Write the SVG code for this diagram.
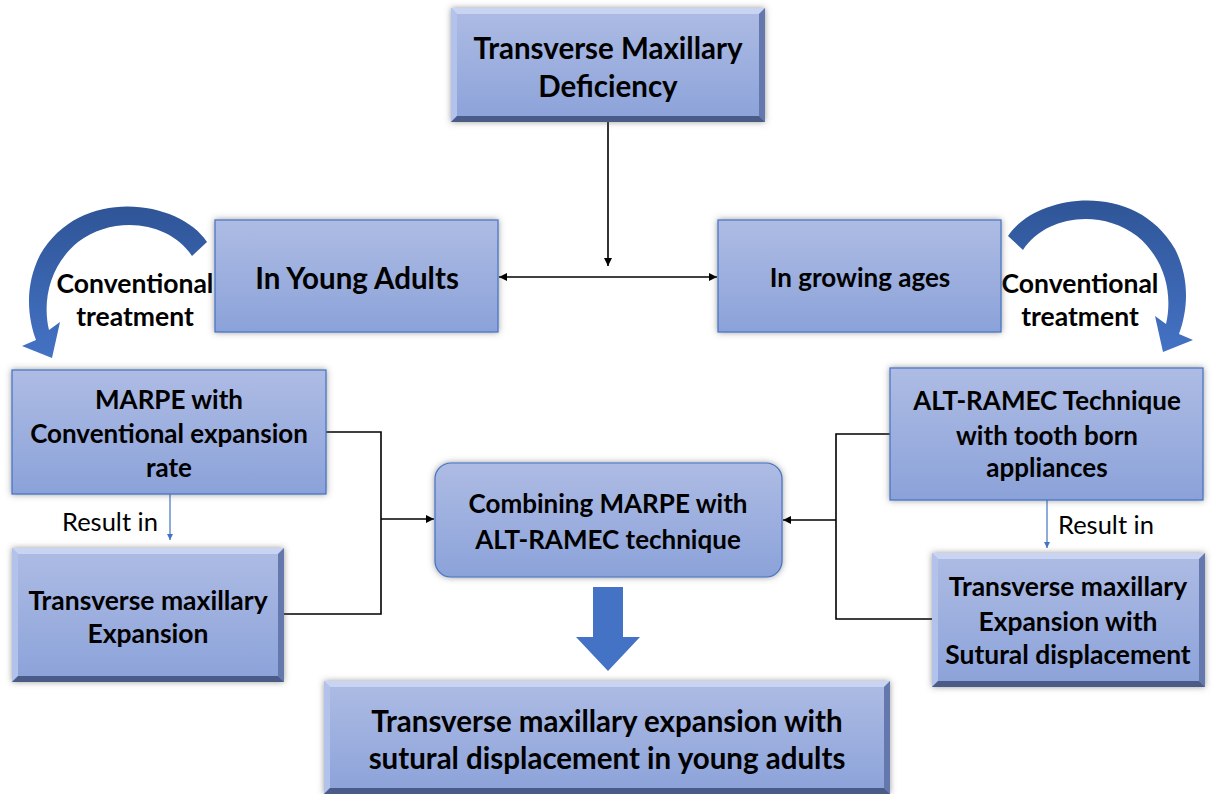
<svg xmlns="http://www.w3.org/2000/svg" width="1212" height="794" viewBox="0 0 1212 794">
<defs>
<linearGradient id="gBox" x1="0" y1="0" x2="0" y2="1">
<stop offset="0" stop-color="#AEBCE4"/>
<stop offset="1" stop-color="#8BA2D9"/>
</linearGradient>
<linearGradient id="gArc" x1="0" y1="0" x2="0" y2="1">
<stop offset="0" stop-color="#2F5597"/>
<stop offset="1" stop-color="#4472C4"/>
</linearGradient>
<filter id="sh" x="-10%" y="-10%" width="120%" height="120%">
<feDropShadow dx="0" dy="0" stdDeviation="3" flood-color="#555" flood-opacity="0.6"/>
</filter>
<marker id="ah" viewBox="0 0 10 10" refX="10" refY="5" markerWidth="5" markerHeight="5" orient="auto-start-reverse">
<path d="M0,0 L10,5 L0,10 z" fill="#000"/>
</marker>
<marker id="ahb" viewBox="0 0 10 10" refX="10" refY="5" markerWidth="5" markerHeight="5" orient="auto">
<path d="M0,0 L10,5 L0,10 z" fill="#4472C4"/>
</marker>
</defs>
<style>
.box{fill:url(#gBox);stroke:#4472C4;stroke-width:1.2;filter:url(#sh)}
.bev{fill:url(#gBox);filter:url(#sh)}
.bt{fill:#C8D4F1}
.bl{fill:#B3C2EA}
.br{fill:#6478AE}
.bb{fill:#4B5B88}
.t{font-family:Lato,"Liberation Sans",sans-serif;font-weight:bold;fill:#000;text-anchor:middle}
.r{font-family:Lato,"Liberation Sans",sans-serif;font-size:25.5px;fill:#000}
.ln{fill:none;stroke:#000;stroke-width:1.6}
.lb{fill:none;stroke:#4472C4;stroke-width:1.2}
</style>

<g id="connectors">
<path class="ln" d="M608,122 V266" marker-end="url(#ah)"/>
<path class="ln" d="M499,277 H717" marker-start="url(#ah)" marker-end="url(#ah)"/>
<path class="ln" d="M326,432 H381 V614 H284"/>
<path class="ln" d="M381,519 H434" marker-end="url(#ah)"/>
<path class="ln" d="M890,434 H836 V619 H932"/>
<path class="ln" d="M836,520 H783" marker-end="url(#ah)"/>
<path class="lb" d="M170,494 V540" marker-end="url(#ahb)"/>
<path class="lb" d="M1047,500 V548" marker-end="url(#ahb)"/>
<text class="r" x="62" y="531">Result in</text>
<text class="r" x="1058" y="534">Result in</text>
<polygon points="593,587 623,587 623,637 640,637 608,671 576,637 593,637" fill="#4472C4"/>
<path id="arcL" fill="url(#gArc)" d="M207,242 C180,200 80,185 40,255 C25,285 27,315 36,340 L22,346 L52,358 L60,322 L49,330 C42,300 50,265 78,242 C115,214 170,222 192,256 Z"/>
<path id="arcR" fill="url(#gArc)" transform="translate(1215,-6) scale(-1,1)" d="M207,242 C180,200 80,185 40,255 C25,285 27,315 36,340 L22,346 L52,358 L60,322 L49,330 C42,300 50,265 78,242 C115,214 170,222 192,256 Z"/>
<text class="t" x="135" y="292.5" font-size="26.5">Conventional</text>
<text class="t" x="135" y="325.5" font-size="26.5">treatment</text>
<text class="t" x="1080" y="292.5" font-size="26.5">Conventional</text>
<text class="t" x="1080" y="325.5" font-size="26.5">treatment</text>
</g>

<g id="n-top">
<rect class="bev" x="451" y="8" width="314" height="114"/>
<polygon class="bt" points="451,8 765,8 759,14 457,14"/>
<polygon class="bl" points="451,8 457,14 457,116 451,122"/>
<polygon class="br" points="765,8 765,122 759,116 759,14"/>
<polygon class="bb" points="451,122 765,122 759,116 457,116"/>
<text class="t" x="608" y="58.5" font-size="29.5">Transverse Maxillary</text>
<text class="t" x="608" y="96.5" font-size="29.5">Deficiency</text>
</g>

<g id="n-young">
<rect class="box" x="215" y="220" width="283" height="112"/>
<text class="t" x="357" y="288.5" font-size="29.5">In Young Adults</text>
</g>

<g id="n-growing">
<rect class="box" x="718" y="220" width="283" height="112"/>
<text class="t" x="860" y="287" font-size="26">In growing ages</text>
</g>

<g id="n-marpe">
<rect class="box" x="12" y="370" width="314" height="124"/>
<text class="t" x="169" y="409" font-size="26">MARPE with</text>
<text class="t" x="169" y="443" font-size="26">Conventional expansion</text>
<text class="t" x="169" y="477" font-size="26">rate</text>
</g>

<g id="n-left-exp">
<rect class="bev" x="12" y="548" width="272" height="134"/>
<polygon class="bt" points="12,548 284,548 278,554 18,554"/>
<polygon class="bl" points="12,548 18,554 18,676 12,682"/>
<polygon class="br" points="284,548 284,682 278,676 278,554"/>
<polygon class="bb" points="12,682 284,682 278,676 18,676"/>
<text class="t" x="148" y="609.5" font-size="26.5">Transverse maxillary</text>
<text class="t" x="148" y="642.5" font-size="26.5">Expansion</text>
</g>

<g id="n-combine">
<rect class="box" x="435" y="463" width="347" height="114" rx="16"/>
<text class="t" x="608" y="513" font-size="26">Combining MARPE with</text>
<text class="t" x="608" y="549" font-size="26">ALT-RAMEC technique</text>
</g>

<g id="n-altramec">
<rect class="box" x="890" y="368" width="313" height="132"/>
<text class="t" x="1047" y="410" font-size="26">ALT-RAMEC Technique</text>
<text class="t" x="1047" y="445" font-size="26">with tooth born</text>
<text class="t" x="1047" y="477" font-size="26">appliances</text>
</g>

<g id="n-right-exp">
<rect class="bev" x="932" y="553" width="273" height="134"/>
<polygon class="bt" points="932,553 1205,553 1199,559 938,559"/>
<polygon class="bl" points="932,553 938,559 938,681 932,687"/>
<polygon class="br" points="1205,553 1205,687 1199,681 1199,559"/>
<polygon class="bb" points="932,687 1205,687 1199,681 938,681"/>
<text class="t" x="1068" y="596" font-size="26.4">Transverse maxillary</text>
<text class="t" x="1068" y="631" font-size="26.4">Expansion with</text>
<text class="t" x="1068" y="664" font-size="26.4">Sutural displacement</text>
</g>

<g id="n-bottom">
<rect class="bev" x="324" y="681" width="566" height="113"/>
<polygon class="bt" points="324,681 890,681 884,687 330,687"/>
<polygon class="bl" points="324,681 330,687 330,788 324,794"/>
<polygon class="br" points="890,681 890,794 884,788 884,687"/>
<polygon class="bb" points="324,794 890,794 884,788 330,788"/>
<text class="t" x="607" y="731.5" font-size="29.5">Transverse maxillary expansion with</text>
<text class="t" x="607" y="768.5" font-size="29.5">sutural displacement in young adults</text>
</g>
</svg>
